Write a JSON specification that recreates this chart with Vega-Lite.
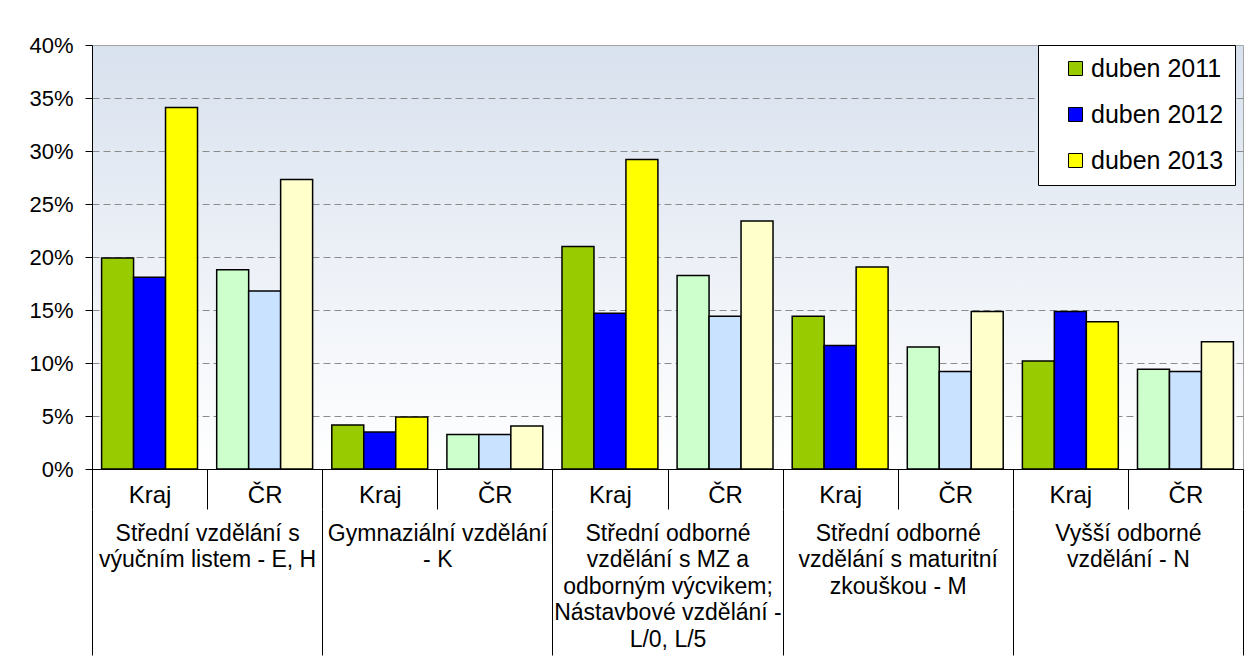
{
  "$schema": "https://vega.github.io/schema/vega-lite/v6.json",
  "autosize": {"type": "none"},
  "padding": {"left": 92, "top": 45, "right": 7, "bottom": 201},
  "width": 1151,
  "height": 424,
  "background": "white",
  "config": {
    "font": "Liberation Sans",
    "view": {
      "stroke": "#A6A6A6",
      "strokeWidth": 1,
      "fill": {"gradient": "linear", "x1": 0, "y1": 0, "x2": 0, "y2": 1, "stops": [{"offset": 0, "color": "#D8E1EE"}, {"offset": 0.75, "color": "#F6F8FB"}, {"offset": 1, "color": "#FFFFFF"}]}
    },
    "axis": {"labelFont": "Liberation Sans", "labelColor": "#000000", "domainColor": "#000000", "tickColor": "#000000", "titleFont": "Liberation Sans"}
  },
  "data": {
    "values": [
      {"group": "Střední vzdělání s\nvýučním listem - E, H", "region": "Kraj", "year": "duben 2011", "value": 19.9},
      {"group": "Střední vzdělání s\nvýučním listem - E, H", "region": "Kraj", "year": "duben 2012", "value": 18.1},
      {"group": "Střední vzdělání s\nvýučním listem - E, H", "region": "Kraj", "year": "duben 2013", "value": 34.1},
      {"group": "Střední vzdělání s\nvýučním listem - E, H", "region": "ČR", "year": "duben 2011", "value": 18.8},
      {"group": "Střední vzdělání s\nvýučním listem - E, H", "region": "ČR", "year": "duben 2012", "value": 16.8},
      {"group": "Střední vzdělání s\nvýučním listem - E, H", "region": "ČR", "year": "duben 2013", "value": 27.3},
      {"group": "Gymnaziální vzdělání\n- K", "region": "Kraj", "year": "duben 2011", "value": 4.15},
      {"group": "Gymnaziální vzdělání\n- K", "region": "Kraj", "year": "duben 2012", "value": 3.5},
      {"group": "Gymnaziální vzdělání\n- K", "region": "Kraj", "year": "duben 2013", "value": 4.9},
      {"group": "Gymnaziální vzdělání\n- K", "region": "ČR", "year": "duben 2011", "value": 3.25},
      {"group": "Gymnaziální vzdělání\n- K", "region": "ČR", "year": "duben 2012", "value": 3.25},
      {"group": "Gymnaziální vzdělání\n- K", "region": "ČR", "year": "duben 2013", "value": 4.05},
      {"group": "Střední odborné\nvzdělání s MZ a\nodborným výcvikem;\nNástavbové vzdělání -\nL/0, L/5", "region": "Kraj", "year": "duben 2011", "value": 21.0},
      {"group": "Střední odborné\nvzdělání s MZ a\nodborným výcvikem;\nNástavbové vzdělání -\nL/0, L/5", "region": "Kraj", "year": "duben 2012", "value": 14.7},
      {"group": "Střední odborné\nvzdělání s MZ a\nodborným výcvikem;\nNástavbové vzdělání -\nL/0, L/5", "region": "Kraj", "year": "duben 2013", "value": 29.2},
      {"group": "Střední odborné\nvzdělání s MZ a\nodborným výcvikem;\nNástavbové vzdělání -\nL/0, L/5", "region": "ČR", "year": "duben 2011", "value": 18.25},
      {"group": "Střední odborné\nvzdělání s MZ a\nodborným výcvikem;\nNástavbové vzdělání -\nL/0, L/5", "region": "ČR", "year": "duben 2012", "value": 14.4},
      {"group": "Střední odborné\nvzdělání s MZ a\nodborným výcvikem;\nNástavbové vzdělání -\nL/0, L/5", "region": "ČR", "year": "duben 2013", "value": 23.4},
      {"group": "Střední odborné\nvzdělání s maturitní\nzkouškou - M", "region": "Kraj", "year": "duben 2011", "value": 14.4},
      {"group": "Střední odborné\nvzdělání s maturitní\nzkouškou - M", "region": "Kraj", "year": "duben 2012", "value": 11.65},
      {"group": "Střední odborné\nvzdělání s maturitní\nzkouškou - M", "region": "Kraj", "year": "duben 2013", "value": 19.05},
      {"group": "Střední odborné\nvzdělání s maturitní\nzkouškou - M", "region": "ČR", "year": "duben 2011", "value": 11.5},
      {"group": "Střední odborné\nvzdělání s maturitní\nzkouškou - M", "region": "ČR", "year": "duben 2012", "value": 9.2},
      {"group": "Střední odborné\nvzdělání s maturitní\nzkouškou - M", "region": "ČR", "year": "duben 2013", "value": 14.85},
      {"group": "Vyšší odborné\nvzdělání - N", "region": "Kraj", "year": "duben 2011", "value": 10.2},
      {"group": "Vyšší odborné\nvzdělání - N", "region": "Kraj", "year": "duben 2012", "value": 14.85},
      {"group": "Vyšší odborné\nvzdělání - N", "region": "Kraj", "year": "duben 2013", "value": 13.9},
      {"group": "Vyšší odborné\nvzdělání - N", "region": "ČR", "year": "duben 2011", "value": 9.4},
      {"group": "Vyšší odborné\nvzdělání - N", "region": "ČR", "year": "duben 2012", "value": 9.2},
      {"group": "Vyšší odborné\nvzdělání - N", "region": "ČR", "year": "duben 2013", "value": 12.0}
    ]
  },
  "transform": [
    {"calculate": "datum.group + '|' + datum.region", "as": "sub"},
    {"calculate": "datum.region === 'Kraj' ? datum.year : datum.year + ' ČR'", "as": "colorKey"}
  ],
  "layer": [
    {
      "mark": {"type": "rect", "opacity": 0},
      "encoding": {
        "x": {
          "field": "group", "type": "nominal", "sort": null,
          "scale": {"paddingInner": 0, "paddingOuter": 0},
          "axis": {
            "orient": "bottom", "title": null, "offset": 40, "domain": false,
            "tickBand": "extent", "tickSize": 146, "tickWidth": 1,
            "labelAngle": 0, "labelFontSize": 23, "labelLineHeight": 26.5, "labelLimit": 0,
            "labelBaseline": "top", "labelPadding": -133,
            "labelExpr": "isValid(datum.value) ? split(datum.value, '\\n') : ''"
          }
        }
      }
    },
    {
      "mark": {"type": "bar", "stroke": "#000000", "strokeWidth": 1.5},
      "encoding": {
        "x": {
          "field": "sub", "type": "nominal", "sort": null,
          "scale": {"paddingInner": 0, "paddingOuter": 0},
          "axis": {
            "orient": "bottom", "title": null, "domain": true,
            "tickBand": "extent", "tickSize": 40, "tickWidth": 1,
            "labelAngle": 0, "labelFontSize": 24, "labelBaseline": "middle", "labelPadding": -14, "labelLimit": 0,
            "labelExpr": "isValid(datum.value) ? split(datum.value, '|')[1] : ''"
          }
        },
        "xOffset": {"field": "year", "type": "nominal", "sort": null, "scale": {"paddingInner": 0, "paddingOuter": 0.3}},
        "y": {
          "field": "value", "type": "quantitative",
          "scale": {"domain": [0, 40], "nice": false},
          "axis": {
            "title": null, "values": [0, 5, 10, 15, 20, 25, 30, 35, 40],
            "labelExpr": "datum.value + '%'", "labelFontSize": 22, "labelPadding": 12,
            "tickSize": 7, "domainColor": "#000000",
            "grid": true, "gridColor": "#8C8C8C", "gridDash": [7, 4], "gridWidth": 1,
            "gridOpacity": {"condition": {"test": "datum.value == 0 || datum.value == 40", "value": 0}, "value": 1}
          }
        },
        "fill": {
          "field": "colorKey", "type": "nominal",
          "scale": {
            "domain": ["duben 2011", "duben 2012", "duben 2013", "duben 2011 ČR", "duben 2012 ČR", "duben 2013 ČR"],
            "range": ["#99CC00", "#0000FF", "#FFFF00", "#CCFFCC", "#C9E2FF", "#FFFFCC"]
          },
          "legend": {
            "values": ["duben 2011", "duben 2012", "duben 2013"],
            "title": null, "orient": "none", "legendX": 946, "legendY": 0,
            "fillColor": "#FFFFFF", "strokeColor": "#000000", "padding": 11,
            "symbolType": "square", "symbolSize": 196, "symbolStrokeColor": "#000000", "symbolStrokeWidth": 1,
            "symbolOffset": 14, "labelFontSize": 25, "labelFont": "Liberation Sans", "labelColor": "#000000",
            "labelOffset": 3, "rowPadding": 20
          }
        }
      }
    }
  ],
  "resolve": {"scale": {"x": "independent"}, "axis": {"x": "independent"}}
}
